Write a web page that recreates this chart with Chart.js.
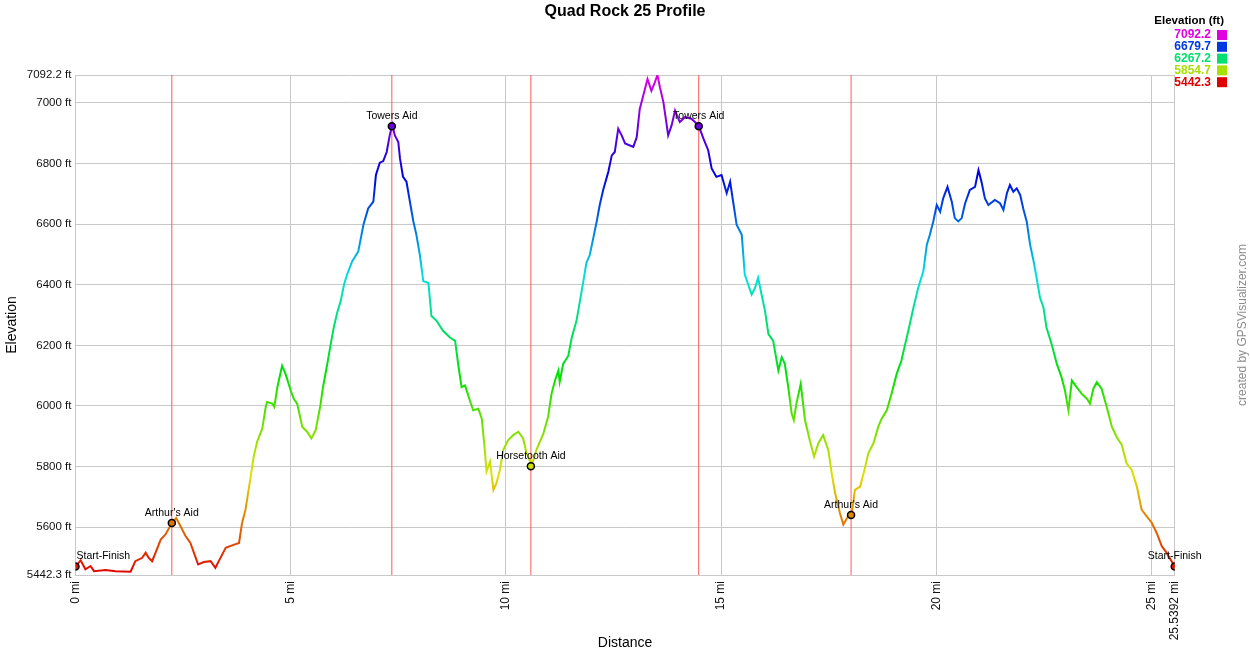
<!DOCTYPE html>
<html>
<head>
<meta charset="utf-8">
<title>Quad Rock 25 Profile</title>
<script src="https://cdn.jsdelivr.net/npm/chart.js@4.4.1/dist/chart.umd.min.js"></script>
<style>
  html, body { margin: 0; padding: 0; background: #fff; }
  #wrap { width: 1250px; height: 650px; }
</style>
</head>
<body>
<div id="wrap"><canvas id="profile"></canvas></div>
<script>
// PERFIL - distancia (mi) y elevacion (ft)
const distances = [
  0.00, 0.12, 0.23, 0.35, 0.43, 0.70, 0.93, 1.28, 1.39, 1.55, 1.63, 1.70, 1.78, 1.86, 1.98, 2.09,
  2.24, 2.34, 2.44, 2.56, 2.67, 2.75, 2.85, 2.98, 3.14, 3.25, 3.35, 3.49, 3.64, 3.80, 3.87, 3.95,
  4.07, 4.14, 4.22, 4.34, 4.42, 4.45, 4.57, 4.62, 4.69, 4.80, 4.88, 5.00, 5.07, 5.15, 5.27, 5.38,
  5.48, 5.58, 5.69, 5.75, 5.85, 5.93, 6.00, 6.08, 6.16, 6.24, 6.31, 6.43, 6.57, 6.69, 6.80, 6.92,
  6.98, 7.07, 7.15, 7.23, 7.30, 7.36, 7.42, 7.50, 7.54, 7.61, 7.69, 7.77, 7.85, 7.92, 8.00, 8.08,
  8.20, 8.27, 8.39, 8.54, 8.70, 8.82, 8.89, 8.97, 9.05, 9.16, 9.24, 9.36, 9.44, 9.51, 9.55, 9.63,
  9.71, 9.78, 9.86, 9.94, 10.05, 10.17, 10.29, 10.40, 10.48, 10.60, 10.71, 10.87, 10.98, 11.06, 11.14, 11.22,
  11.25, 11.33, 11.45, 11.53, 11.64, 11.72, 11.80, 11.87, 11.95, 12.03, 12.11, 12.18, 12.26, 12.38, 12.46, 12.53,
  12.61, 12.69, 12.77, 12.96, 13.04, 13.11, 13.19, 13.29, 13.38, 13.46, 13.52, 13.58, 13.66, 13.71, 13.77, 13.85,
  13.93, 14.04, 14.16, 14.31, 14.48, 14.59, 14.70, 14.78, 14.89, 15.01, 15.13, 15.21, 15.28, 15.36, 15.48, 15.55,
  15.63, 15.71, 15.79, 15.86, 15.94, 16.02, 16.10, 16.21, 16.33, 16.41, 16.48, 16.56, 16.64, 16.69, 16.75, 16.85,
  16.95, 17.06, 17.16, 17.26, 17.37, 17.49, 17.57, 17.65, 17.76, 17.84, 17.95, 18.03, 18.11, 18.23, 18.33, 18.42,
  18.54, 18.65, 18.73, 18.85, 18.96, 19.08, 19.19, 19.27, 19.35, 19.47, 19.58, 19.70, 19.78, 19.85, 19.93, 20.01,
  20.09, 20.16, 20.26, 20.36, 20.43, 20.51, 20.59, 20.67, 20.78, 20.90, 20.98, 21.05, 21.13, 21.21, 21.36, 21.48,
  21.56, 21.64, 21.71, 21.79, 21.87, 21.95, 22.02, 22.10, 22.18, 22.26, 22.33, 22.41, 22.49, 22.56, 22.68, 22.80,
  22.91, 22.99, 23.07, 23.15, 23.26, 23.38, 23.50, 23.57, 23.65, 23.73, 23.84, 23.96, 24.08, 24.19, 24.31, 24.42,
  24.54, 24.66, 24.77, 24.89, 25.01, 25.12, 25.24, 25.35, 25.5392
];
const elevations = [
  5470, 5491, 5461, 5472, 5455, 5459, 5455, 5453, 5488, 5499, 5516, 5499, 5488, 5516, 5559, 5576,
  5614, 5630, 5603, 5570, 5548, 5516, 5477, 5485, 5488, 5466, 5494, 5532, 5540, 5548, 5614, 5658,
  5767, 5833, 5882, 5926, 5997, 6013, 6008, 5997, 6062, 6133, 6106, 6051, 6024, 6008, 5931, 5915,
  5893, 5920, 6002, 6062, 6139, 6204, 6259, 6308, 6346, 6401, 6434, 6478, 6510, 6598, 6652, 6674,
  6762, 6803, 6808, 6838, 6893, 6928, 6893, 6871, 6816, 6756, 6740, 6674, 6609, 6565, 6499, 6412,
  6406, 6297, 6281, 6248, 6226, 6215, 6139, 6062, 6068, 6019, 5986, 5991, 5958, 5855, 5783, 5816,
  5723, 5745, 5789, 5855, 5887, 5904, 5915, 5893, 5844, 5805, 5855, 5909, 5964, 6040, 6084, 6117,
  6079, 6139, 6166, 6226, 6281, 6346, 6412, 6472, 6499, 6554, 6609, 6663, 6713, 6773, 6827, 6838,
  6915, 6893, 6866, 6855, 6887, 6980, 7024, 7079, 7040, 7068, 7092, 7051, 7002, 6953, 6893, 6926,
  6975, 6937, 6953, 6948, 6925, 6882, 6844, 6784, 6756, 6762, 6702, 6740, 6674, 6598, 6565, 6434,
  6401, 6368, 6390, 6423, 6368, 6314, 6237, 6215, 6117, 6161, 6139, 6062, 5975, 5953, 6008, 6073,
  5953, 5887, 5833, 5877, 5904, 5855, 5778, 5712, 5647, 5609, 5636, 5640, 5723, 5734, 5789, 5844,
  5877, 5931, 5958, 5986, 6040, 6106, 6150, 6200, 6248, 6325, 6390, 6445, 6532, 6565, 6609, 6663,
  6641, 6685, 6723, 6674, 6620, 6609, 6620, 6669, 6713, 6723, 6778, 6740, 6685, 6663, 6680, 6669,
  6647, 6702, 6729, 6707, 6718, 6696, 6652, 6609, 6532, 6478, 6423, 6357, 6325, 6259, 6204, 6139,
  6095, 6051, 5986, 6084, 6062, 6040, 6024, 6008, 6057, 6079, 6057, 5997, 5931, 5898, 5871, 5811,
  5789, 5734, 5658, 5636, 5614, 5581, 5537, 5516, 5470
];

// WAYPOINTS
const wptNames = ["Start-Finish", "Arthur's Aid", "Towers Aid", "Horsetooth Aid", "Towers Aid", "Arthur's Aid", "Start-Finish"];
const wptMiles = [0, 2.238, 7.35, 10.58, 14.48, 18.02, 25.5392];
const wptElev = [5470, 5614, 6923, 5801, 6923, 5640, 5470];
const aidMiles = [2.238, 7.35, 10.58, 14.48, 18.02];

// EJES
const yMin = 5442.3;
const yMax = 7092.2;
const xMax = 25.5392;
const yTicks = [5442.3, 5600, 5800, 6000, 6200, 6400, 6600, 6800, 7000, 7092.2];
const xTicks = [0, 5, 10, 15, 20, 25, 25.5392];
const legendValues = [7092.2, 6679.7, 6267.2, 5854.7, 5442.3];

const FONT = "'Liberation Sans', Arial, sans-serif";
Chart.defaults.font.family = FONT;

function elevColor(ft) {
  const h = 300 * (ft - yMin) / (yMax - yMin);
  return `hsl(${h.toFixed(1)}, 100%, 44%)`;
}

function elevGradient(context) {
  const chart = context.chart;
  if (!chart.chartArea) return elevColor(yMin);
  const ys = chart.scales.y;
  const g = chart.ctx.createLinearGradient(0, ys.getPixelForValue(yMin), 0, ys.getPixelForValue(yMax));
  for (let i = 0; i <= 30; i++) {
    g.addColorStop(i / 30, `hsl(${i * 10}, 100%, 44%)`);
  }
  return g;
}

const datasets = [
  {
    label: "Elevation",
    data: distances.map((d, i) => ({ x: d, y: elevations[i] })),
    borderColor: elevGradient,
    borderWidth: 2,
    pointRadius: 0,
    tension: 0,
    order: 1,
  },
  {
    label: "Waypoints",
    data: wptMiles.map((d, i) => ({ x: d, y: wptElev[i] })),
    showLine: false,
    pointRadius: 3.5,
    pointBorderWidth: 1.5,
    pointBorderColor: "#000",
    pointBackgroundColor: wptElev.map(elevColor),
    order: 0,
  },
];
aidMiles.forEach((m) => {
  datasets.push({
    label: "aid",
    data: [{ x: m, y: yMin }, { x: m, y: yMax }],
    borderColor: "#ff5a5a",
    borderWidth: 1,
    pointRadius: 0,
    order: 3,
  });
});

// ============ TEXTOS (titulo, leyenda, etiquetas, credito)
const textPlugin = {
  id: "textPlugin",
  afterDatasetsDraw(chart) {
    const ctx = chart.ctx;
    const xs = chart.scales.x;
    const ys = chart.scales.y;
    ctx.save();
    ctx.textBaseline = "middle";
    ctx.fillStyle = "#000";
    ctx.font = "10.5px " + FONT;
    wptNames.forEach((name, i) => {
      const px = xs.getPixelForValue(wptMiles[i]);
      const py = ys.getPixelForValue(wptElev[i]);
      const w = ctx.measureText(name).width;
      let left = px - w / 2;
      if (left < chart.chartArea.left + 1) left = chart.chartArea.left + 1;
      ctx.textAlign = "left";
      ctx.fillText(name, left, py - 10);
    });
    ctx.restore();
  },
  afterDraw(chart) {
    const ctx = chart.ctx;
    ctx.save();
    // titulo
    ctx.fillStyle = "#000";
    ctx.textAlign = "center";
    ctx.textBaseline = "middle";
    ctx.font = "bold 16px " + FONT;
    ctx.fillText("Quad Rock 25 Profile", 625, 12);
    // leyenda
    ctx.textAlign = "right";
    ctx.font = "bold 11.5px " + FONT;
    ctx.fillText("Elevation (ft)", 1224, 21);
    ctx.font = "bold 12px " + FONT;
    legendValues.forEach((v, i) => {
      const y = 35 + i * 11.8;
      ctx.fillStyle = elevColor(v);
      ctx.fillText(v.toFixed(1), 1211, y);
      ctx.fillRect(1217, y - 5, 10, 10);
    });
    // credito
    ctx.translate(1243, 325);
    ctx.rotate(-Math.PI / 2);
    ctx.textAlign = "center";
    ctx.fillStyle = "#8c8c8c";
    ctx.font = "12px " + FONT;
    ctx.fillText("created by GPSVisualizer.com", 0, 0);
    ctx.restore();
  },
};

new Chart(document.getElementById("profile"), {
  type: "line",
  data: { datasets: datasets },
  options: {
    responsive: true,
    maintainAspectRatio: false,
    animation: false,
    layout: {
      padding: { left: 0, right: 75.3, top: 75, bottom: -2 },
    },
    plugins: {
      legend: { display: false },
      tooltip: { enabled: false },
      title: { display: false },
    },
    scales: {
      x: {
        type: "linear",
        min: 0,
        max: xMax,
        afterBuildTicks: (s) => { s.ticks = xTicks.map((v) => ({ value: v })); },
        afterFit: (s) => { s.height = 77; },
        grid: { color: "#c8c8c8", drawTicks: false },
        border: { color: "#c8c8c8" },
        ticks: {
          minRotation: 90,
          maxRotation: 90,
          padding: 6,
          color: "#111",
          font: { size: 12 },
          callback: (v) => v + " mi",
        },
        title: {
          display: true,
          text: "Distance",
          color: "#000",
          font: { size: 14 },
          padding: { top: 0, bottom: 0 },
        },
      },
      y: {
        type: "linear",
        min: yMin,
        max: yMax,
        afterBuildTicks: (s) => { s.ticks = yTicks.map((v) => ({ value: v })); },
        afterFit: (s) => { s.width = 75.5; },
        grid: { color: "#c8c8c8", drawTicks: false },
        border: { color: "#c8c8c8" },
        ticks: {
          padding: 4,
          color: "#111",
          font: { size: 11.5 },
          callback: (v) => v + " ft",
        },
        title: {
          display: true,
          text: "Elevation",
          color: "#000",
          font: { size: 14 },
          padding: { top: 4, bottom: 0 },
        },
      },
    },
  },
  plugins: [textPlugin],
});
</script>
</body>
</html>
